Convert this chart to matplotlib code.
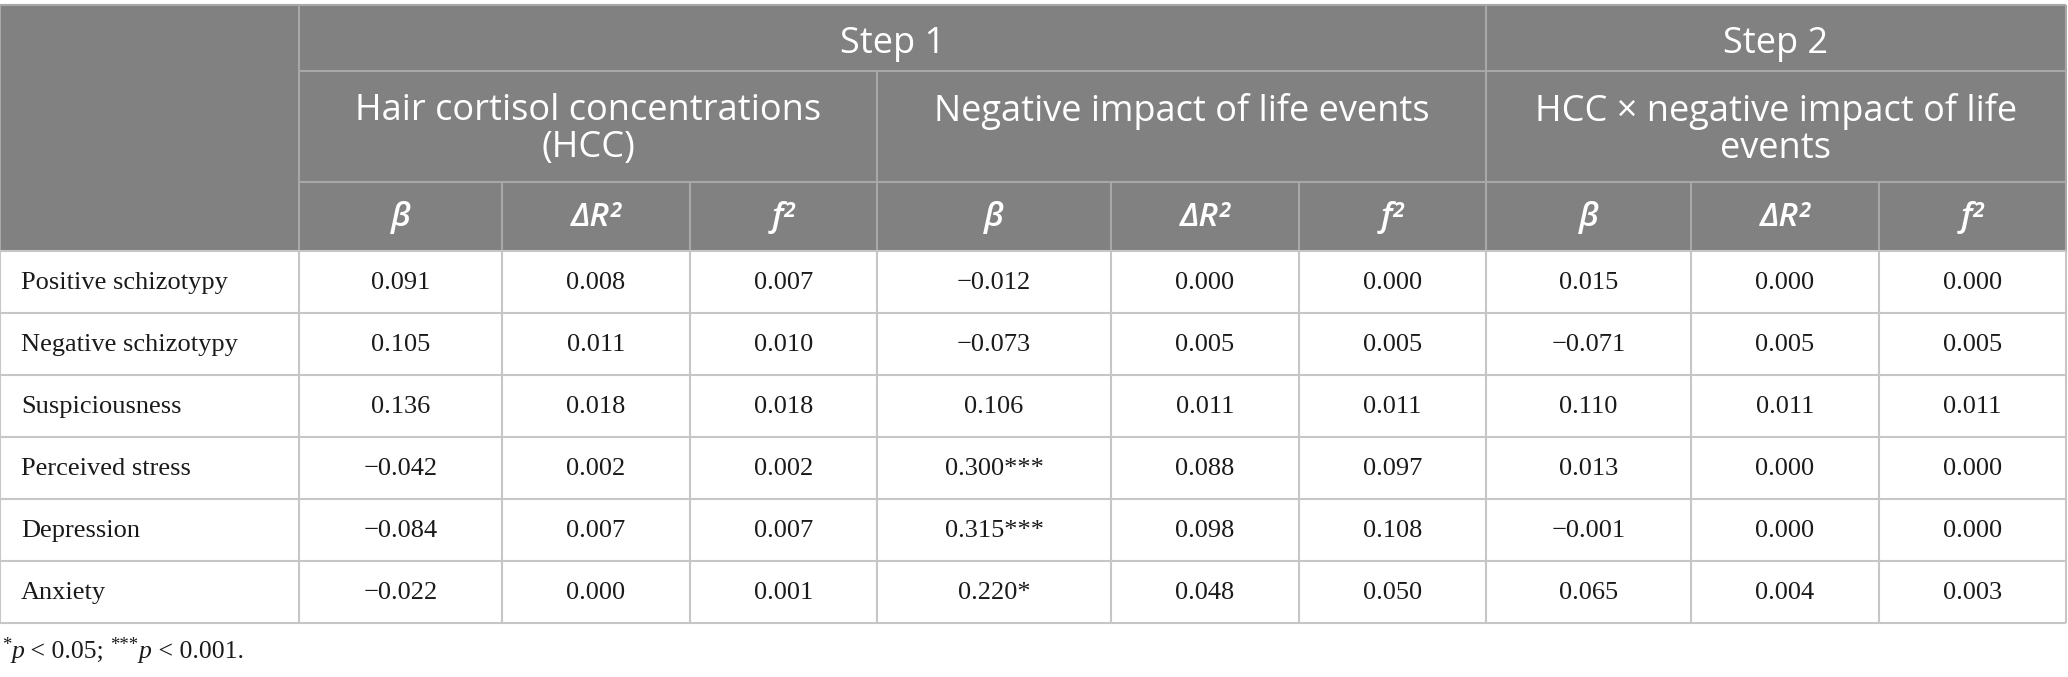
import matplotlib
matplotlib.use("Agg")
import matplotlib.pyplot as plt
from matplotlib.patches import Rectangle

# table content
steps = ["Step 1", "Step 2"]
predictors = ["Hair cortisol concentrations\n(HCC)",
              "Negative impact of life events",
              "HCC \u00d7 negative impact of life\nevents"]
stats = ["\u03b2", "\u0394R\u00b2", "f\u00b2"]
outcomes = ["Positive schizotypy", "Negative schizotypy", "Suspiciousness",
            "Perceived stress", "Depression", "Anxiety"]
hcc = [["0.091", "0.008", "0.007"],
       ["0.105", "0.011", "0.010"],
       ["0.136", "0.018", "0.018"],
       ["\u22120.042", "0.002", "0.002"],
       ["\u22120.084", "0.007", "0.007"],
       ["\u22120.022", "0.000", "0.001"]]
life = [["\u22120.012", "0.000", "0.000"],
        ["\u22120.073", "0.005", "0.005"],
        ["0.106", "0.011", "0.011"],
        ["0.300***", "0.088", "0.097"],
        ["0.315***", "0.098", "0.108"],
        ["0.220*", "0.048", "0.050"]]
inter = [["0.015", "0.000", "0.000"],
         ["\u22120.071", "0.005", "0.005"],
         ["0.110", "0.011", "0.011"],
         ["0.013", "0.000", "0.000"],
         ["\u22120.001", "0.000", "0.000"],
         ["0.065", "0.004", "0.003"]]
# footnote pieces: (text, italic, superscript)
footnote = [("*", False, True), ("p", True, False), (" < 0.05; ", False, False),
            ("***", False, True), ("p", True, False), (" < 0.001.", False, False)]

# layout (pixels)
W, H = 2068, 677
col_x = [0, 299, 502, 690, 877, 1111, 1299, 1486, 1691, 1879, 2066]
row_y = [5, 71, 182, 251, 313, 375, 437, 499, 561, 623]
head_bg = "#808180"
head_line = "#a8a8a8"
body_line = "#c6c6c6"
head_font = "Open Sans"
body_font = "Liberation Serif"
text_col = "#1a1a1a"

fig = plt.figure(figsize=(W / 100, H / 100), dpi=100)
ax = fig.add_axes([0, 0, 1, 1])
ax.set_xlim(0, W)
ax.set_ylim(H, 0)
ax.axis("off")

# header background
ax.add_patch(Rectangle((col_x[0], row_y[0]), col_x[-1] - col_x[0], row_y[3] - row_y[0],
                       facecolor=head_bg, edgecolor="none"))

# header lines
ax.hlines(row_y[0], col_x[0], col_x[-1], color=head_line, lw=1.5)
ax.hlines([row_y[1], row_y[2]], col_x[1], col_x[-1], color=head_line, lw=1.5)
ax.vlines([col_x[1], col_x[7]], row_y[0], row_y[3], color=head_line, lw=1.5)
ax.vlines(col_x[4], row_y[1], row_y[3], color=head_line, lw=1.5)
ax.vlines([col_x[i] for i in (2, 3, 5, 6, 8, 9)], row_y[2], row_y[3], color=head_line, lw=1.5)
ax.vlines([col_x[0], col_x[-1]], row_y[0], row_y[3], color=head_line, lw=1.5)


def cx(a, b):
    return (col_x[a] + col_x[b]) / 2


def cy(a, b):
    return (row_y[a] + row_y[b]) / 2


# header text
ax.text(cx(1, 7), cy(0, 1) + 6, steps[0], color="white", fontsize=26, family=head_font,
        ha="center", va="center")
ax.text(cx(7, 10), cy(0, 1) + 6, steps[1], color="white", fontsize=26, family=head_font,
        ha="center", va="center")
for g, label in enumerate(predictors):
    a = 1 + 3 * g
    ax.text(cx(a, a + 3), row_y[1] + 22, label, color="white", fontsize=26, family=head_font,
            ha="center", va="top", linespacing=1.02)
    for k, s in enumerate(stats):
        ax.text(cx(a + k, a + k + 1), cy(2, 3) + 1, s, color="white", fontsize=24,
                family=head_font, style="italic", weight="semibold", ha="center", va="center")

# body
ax.hlines(row_y[3:], col_x[0], col_x[-1], color=body_line, lw=1.5)
ax.vlines(col_x, row_y[3], row_y[-1], color=body_line, lw=1.5)
for r, name in enumerate(outcomes):
    y = cy(3 + r, 4 + r) + 1
    ax.text(col_x[0] + 21, y, name, fontsize=19, family=body_font, ha="left", va="center",
            color=text_col)
    vals = hcc[r] + life[r] + inter[r]
    for c, v in enumerate(vals):
        ax.text(cx(1 + c, 2 + c), y, v, fontsize=19, family=body_font, ha="center",
                va="center", color=text_col)

# footnote, drawn piece by piece
fig.canvas.draw()
renderer = fig.canvas.get_renderer()
x = 2.0
base = 658
for txt, ital, sup in footnote:
    t = ax.text(x, base - (8 if sup else 0), txt, fontsize=13.5 if sup else 18.5,
                family=body_font, style="italic" if ital else "normal",
                ha="left", va="baseline", color=text_col)
    x += t.get_window_extent(renderer).width

fig.savefig("out.png", dpi=100)
